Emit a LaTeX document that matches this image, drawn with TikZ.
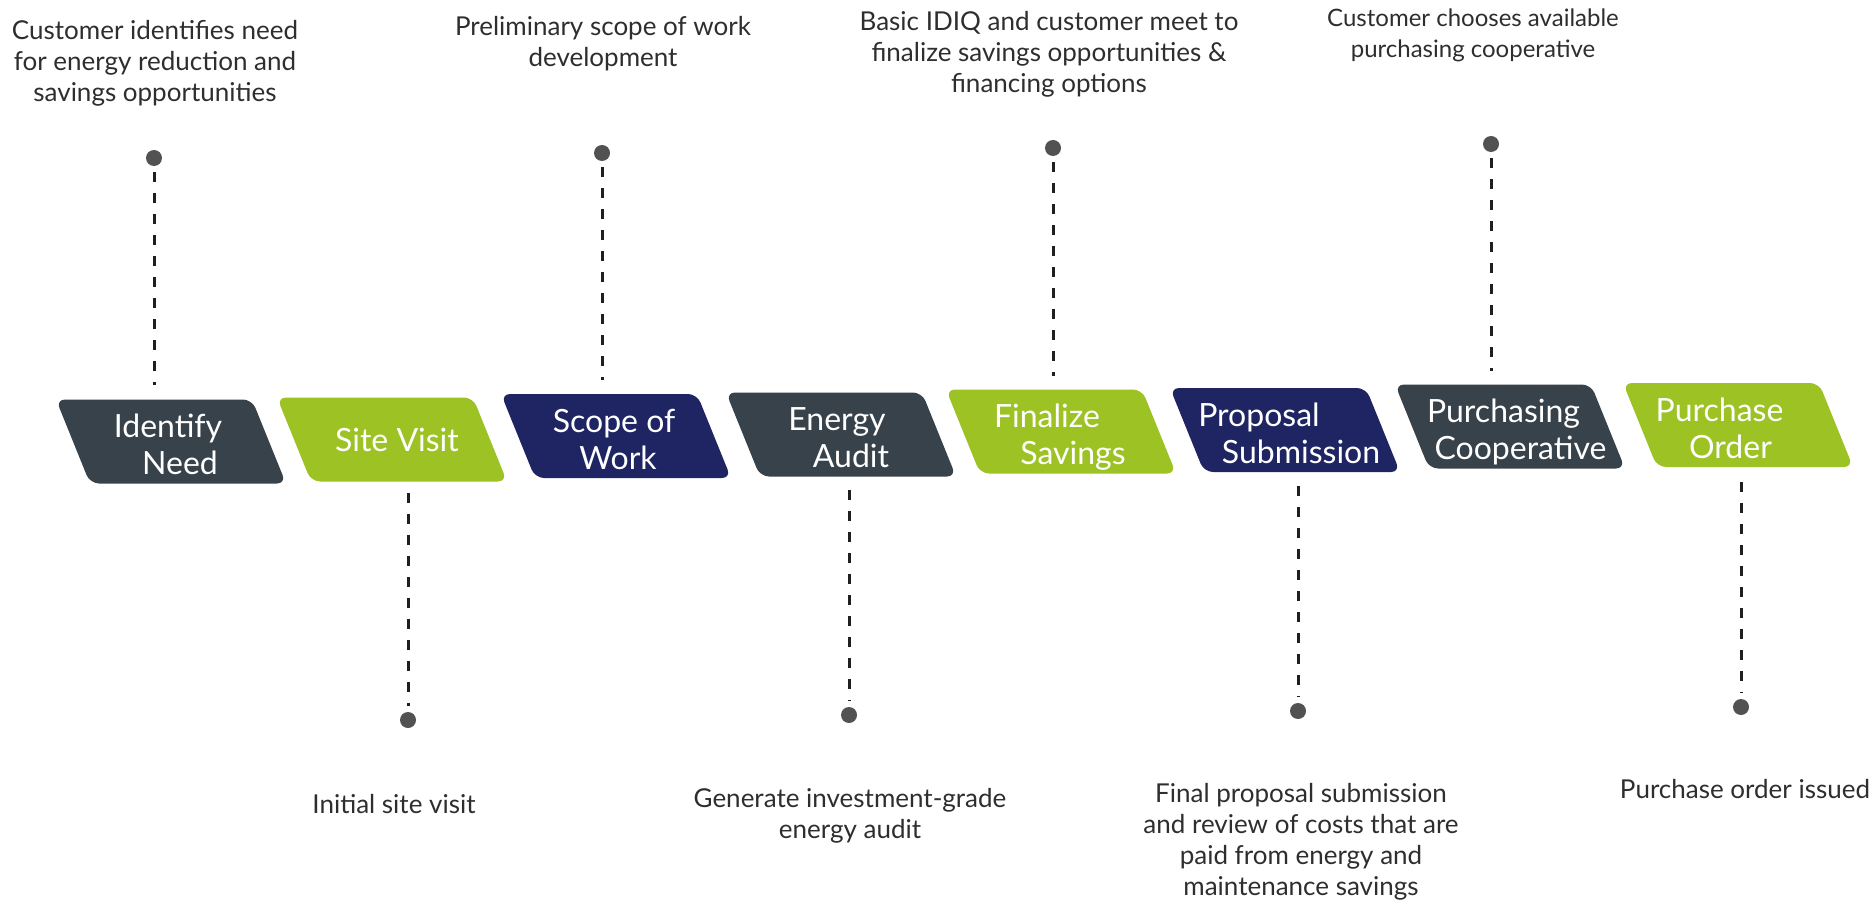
\documentclass[tikz,border=0pt]{standalone}
\usepackage{fontspec}
\setmainfont{Lato}
\definecolor{slate}{HTML}{38424B}
\definecolor{lime}{HTML}{9CC224}
\definecolor{navy}{HTML}{1F2562}
\definecolor{dotgray}{HTML}{525252}
\definecolor{labelgray}{HTML}{2E2E2E}
\newcommand\twol[3]{#1\hspace*{#3pt}\\\hspace*{#3pt}#2}
% name, cx, cy, colour, text x, text y, text
\newcommand\stagebox[7]{%
  \fill[#4, rounded corners=9pt] (#2-115,#3-42) -- (#2+81,#3-42) -- (#2+115,#3+42) -- (#2-81,#3+42) -- cycle;
  \node[boxtext] (#1) at (#5,#6) {#7};
}
\begin{document}
\begin{tikzpicture}[x=1pt,y=-1pt,
  lbl/.style={align=center, anchor=base, inner sep=0pt, text=labelgray, font=\fontsize{26}{31}\selectfont},
  boxtext/.style={align=center, text=white, inner sep=0pt, font=\fontsize{32}{37}\selectfont},
  dotnode/.style={circle, fill=dotgray, minimum size=16pt, inner sep=0pt},
  dashline/.style={line width=3pt, dash pattern=on 10pt off 11pt, draw=black!88}
]
\useasboundingbox (0,0) rectangle (1876,901);

% stage boxes
\stagebox{b1}{171}{441.5}{slate}{174}{444.5}{\twol{Identify}{Need}{12}}
\stagebox{b2}{392}{439.5}{lime}{397}{439.5}{Site Visit}
\stagebox{b3}{616}{436}{navy}{616}{439}{\twol{Scope of}{Work}{4}}
\stagebox{b4}{841}{434.5}{slate}{844}{437.5}{\twol{Energy}{Audit}{14}}
\stagebox{b5}{1061}{431.5}{lime}{1060}{437}{\twol{Finalize}{Savings}{26}}
\stagebox{b6}{1285}{430}{navy}{1280}{433}{\twol{Proposal}{Submission}{42}}
\stagebox{b7}{1510}{426.5}{slate}{1512}{432}{\twol{Purchasing}{Cooperative}{17}}
\stagebox{b8}{1738}{425}{lime}{1725}{428}{\twol{Purchase}{Order}{11}}

% dots
\node[dotnode] (d1) at (154,158) {};
\node[dotnode] (d3) at (602,153) {};
\node[dotnode] (d5) at (1053,148) {};
\node[dotnode] (d7) at (1491,144) {};
\node[dotnode] (d2) at (408,720) {};
\node[dotnode] (d4) at (849,715) {};
\node[dotnode] (d6) at (1298,711) {};
\node[dotnode] (d8) at (1741,707) {};

% dashed line ends near the boxes
\coordinate (e1) at (154,385);
\coordinate (e3) at (602,380);
\coordinate (e5) at (1053,376);
\coordinate (e7) at (1491,371);
\coordinate (s2) at (408,493);
\coordinate (s4) at (849,490);
\coordinate (s6) at (1298,486);
\coordinate (s8) at (1741,482);

\draw[dashline, shorten <=6pt] (d1) -- (e1);
\draw[dashline, shorten <=6pt] (d3) -- (e3);
\draw[dashline, shorten <=6pt] (d5) -- (e5);
\draw[dashline, shorten <=6pt] (d7) -- (e7);
\draw[dashline, shorten >=6pt] (s2) -- (d2);
\draw[dashline, shorten >=6pt] (s4) -- (d4);
\draw[dashline, shorten >=6pt] (s6) -- (d6);
\draw[dashline, shorten >=6pt] (s8) -- (d8);

% labels above (anchor base = last line)
\node[lbl] (l1) at (155,102) {Customer identifies need\\for energy reduction and\\savings opportunities};
\node[lbl] (l3) at (603,67) {Preliminary scope of work\\development};
\node[lbl] (l5) at (1049,93) {Basic IDIQ and customer meet to\\finalize savings opportunities \&\\financing options};
\node[lbl, font=\fontsize{24}{31}\selectfont] (l7) at (1473,58) {Customer chooses available\\purchasing cooperative};

% labels below
\node[lbl] (l2) at (394,813) {Initial site visit};
\node[lbl] (l4) at (850,838) {Generate investment-grade\\energy audit};
\node[lbl] (l6) at (1301,895) {Final proposal submission\\and review of costs that are\\paid from energy and\\maintenance savings};
\node[lbl] (l8) at (1745,798) {Purchase order issued};
\end{tikzpicture}
\end{document}
